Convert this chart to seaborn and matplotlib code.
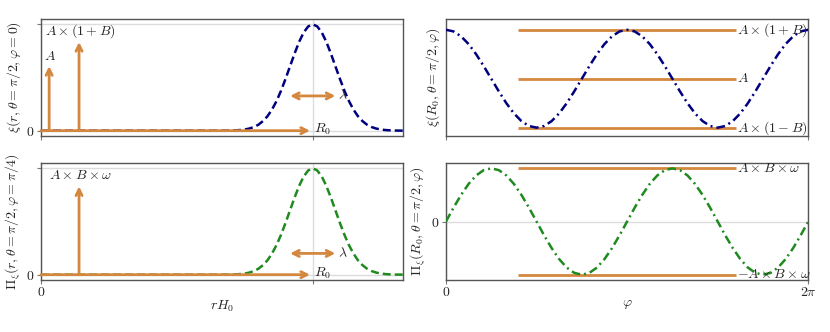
import numpy as np
import matplotlib
matplotlib.use("Agg")
import matplotlib.pyplot as plt
import seaborn as sns

# --- values ------------------------------------------------------------
R0 = 3.0            # peak position of the radial profile (r H0)
LAM = 0.5           # width marker
R_MAX = 4.0

# radial grid: flat part, then the bump around R0
r = [0.0] + [round(v, 2) for v in np.arange(2.0, 4.001, 0.05)]

# xi(r, theta=pi/2, phi=0), peak A(1+B) = 1.5
xi_r = [0.0,
        0.000, 0.001, 0.002, 0.005, 0.009, 0.017, 0.030, 0.051, 0.084, 0.134,
        0.203, 0.297, 0.417, 0.563, 0.731, 0.910, 1.089, 1.253, 1.385, 1.470,
        1.500,
        1.470, 1.385, 1.253, 1.089, 0.910, 0.731, 0.563, 0.417, 0.297, 0.203,
        0.134, 0.084, 0.051, 0.030, 0.017, 0.009, 0.005, 0.002, 0.001, 0.000]

# Pi_xi(r, theta=pi/2, phi=pi/4), peak A B omega = 1
pi_r = [0.0,
        0.000, 0.001, 0.001, 0.003, 0.006, 0.011, 0.020, 0.034, 0.056, 0.089,
        0.135, 0.198, 0.278, 0.375, 0.487, 0.607, 0.726, 0.835, 0.923, 0.980,
        1.000,
        0.980, 0.923, 0.835, 0.726, 0.607, 0.487, 0.375, 0.278, 0.198, 0.135,
        0.089, 0.056, 0.034, 0.020, 0.011, 0.006, 0.003, 0.001, 0.001, 0.000]

# angular grid 0..2pi
phi = np.linspace(0, 2 * np.pi, 49)

_half_xi = [1.483, 1.433, 1.354, 1.250, 1.129, 1.000, 0.871, 0.750, 0.646,
            0.567, 0.517, 0.500, 0.517, 0.567, 0.646, 0.750, 0.871, 1.000,
            1.129, 1.250, 1.354, 1.433, 1.483, 1.500]
xi_phi = [1.500] + _half_xi + _half_xi

_half_pi = [0.259, 0.500, 0.707, 0.866, 0.966, 1.000, 0.966, 0.866, 0.707,
            0.500, 0.259, 0.000, -0.259, -0.500, -0.707, -0.866, -0.966,
            -1.000, -0.966, -0.866, -0.707, -0.500, -0.259, 0.000]
pi_phi = [0.000] + _half_pi + _half_pi

# reference levels on the angular panels
xi_levels = [1.5, 1.0, 0.5]
xi_level_labels = [r"$A\times(1+B)$", r"$A$", r"$A\times(1-B)$"]
pi_levels = [1.0, -1.0]
pi_level_labels = [r"$A\times B\times\omega$", r"$-A\times B\times\omega$"]
level_span = (0.4 * np.pi, 1.6 * np.pi)

# --- style ---------------------------------------------------------------
sns.set_theme(style="whitegrid")
plt.rcParams["font.family"] = ["serif"]
plt.rcParams["font.serif"] = ["cmr10", "DejaVu Serif"]
plt.rcParams["mathtext.fontset"] = "cm"
plt.rcParams["axes.unicode_minus"] = False

NAVY = "#00007f"
GREEN = "#1f8a1f"
ORANGE = "#d4873f"
GRID = "#dcdcdc"
SPINE = "#555555"
FS = 10


def style_axes(ax):
    ax.grid(True, color=GRID, lw=1)
    for s in ax.spines.values():
        s.set_color(SPINE)
        s.set_linewidth(1)
    ax.tick_params(axis="both", which="both", length=3, width=0.8,
                   color="#777777", labelsize=FS, pad=2,
                   bottom=True, left=True)
    ax.tick_params(axis="x", pad=1)


def arrow(ax, start, end, style="->"):
    ax.annotate("", xy=end, xytext=start,
                arrowprops=dict(arrowstyle=style, color=ORANGE, lw=2,
                                mutation_scale=11, shrinkA=0, shrinkB=0),
                zorder=5)


def label(ax, x, y, s):
    ax.text(x, y, s, fontsize=FS, va="center", ha="left", zorder=6)


fig = plt.figure(figsize=(8.3, 3.32), dpi=100)
ax_tl = fig.add_axes([0.0494, 0.5904, 0.4365, 0.3524])
ax_bl = fig.add_axes([0.0494, 0.1566, 0.4365, 0.3524])
ax_tr = fig.add_axes([0.5373, 0.5904, 0.4365, 0.3524])
ax_br = fig.add_axes([0.5373, 0.1566, 0.4365, 0.3524])

# --- top left: radial profile of xi --------------------------------------
ax = ax_tl
sns.lineplot(x=r, y=xi_r, ax=ax, color=NAVY, lw=1.8,
             linestyle=(0, (3.2, 1.6)), zorder=3)
ax.set_xlim(0, R_MAX)
ax.set_ylim(-0.075, 1.575)
ax.set_xticks([0, R0])
ax.set_xticklabels([])
ax.set_yticks([0, max(xi_r)])
ax.set_yticklabels(["$0$", ""])
ax.set_ylabel(r"$\xi(r,\theta=\pi/2,\varphi=0)$", fontsize=FS)
ax.yaxis.set_label_coords(-0.05, 0.5)
style_axes(ax)
arrow(ax, (0, 0), (R0 - 0.03, 0))
arrow(ax, (0.09, 0), (0.09, 0.91))
arrow(ax, (0.42, 0), (0.42, 1.25))
arrow(ax, (R0 - LAM / 2, 0.49), (R0 + LAM / 2, 0.49), style="<->")
label(ax, 0.03, 1.04, r"$A$")
label(ax, 0.04, 1.40, r"$A\times(1+B)$")
label(ax, R0 + 0.01, 0.02, r"$R_0$")
label(ax, R0 + LAM / 2 + 0.03, 0.49, r"$\lambda$")

# --- bottom left: radial profile of Pi_xi --------------------------------
ax = ax_bl
sns.lineplot(x=r, y=pi_r, ax=ax, color=GREEN, lw=1.8,
             linestyle=(0, (3.2, 1.6)), zorder=3)
ax.set_xlim(0, R_MAX)
ax.set_ylim(-0.05, 1.05)
ax.set_xticks([0, R0])
ax.set_xticklabels(["$0$", ""])
ax.set_yticks([0, max(pi_r)])
ax.set_yticklabels(["$0$", ""])
ax.set_xlabel(r"$rH_0$", fontsize=FS)
ax.xaxis.set_label_coords(0.5, -0.155)
ax.set_ylabel(r"$\Pi_\xi(r,\theta=\pi/2,\varphi=\pi/4)$", fontsize=FS)
ax.yaxis.set_label_coords(-0.05, 0.5)
style_axes(ax)
arrow(ax, (0, 0), (R0 - 0.03, 0))
arrow(ax, (0.42, 0), (0.42, 0.83))
arrow(ax, (R0 - LAM / 2, 0.20), (R0 + LAM / 2, 0.20), style="<->")
label(ax, 0.09, 0.93, r"$A\times B\times\omega$")
label(ax, R0 + 0.01, 0.01, r"$R_0$")
label(ax, R0 + LAM / 2 + 0.03, 0.20, r"$\lambda$")

# --- top right: angular dependence of xi ---------------------------------
ax = ax_tr
sns.lineplot(x=phi, y=xi_phi, ax=ax, color=NAVY, lw=1.8,
             linestyle=(0, (3.5, 1.6, 0.8, 1.6)), zorder=3)
for lev, lab in zip(xi_levels, xi_level_labels):
    ax.hlines(lev, *level_span, color=ORANGE, lw=2, zorder=2)
    label(ax, level_span[1] + 0.02, lev, lab)
ax.set_xlim(0, 2 * np.pi)
ax.set_ylim(0.415, 1.61)
ax.set_xticks([0, 2 * np.pi])
ax.set_xticklabels([])
ax.set_yticks([])
ax.set_ylabel(r"$\xi(R_0,\theta=\pi/2,\varphi)$", fontsize=FS)
ax.yaxis.set_label_coords(-0.01, 0.5)
style_axes(ax)
ax.grid(False)

# --- bottom right: angular dependence of Pi_xi ---------------------------
ax = ax_br
sns.lineplot(x=phi, y=pi_phi, ax=ax, color=GREEN, lw=1.8,
             linestyle=(0, (3.5, 1.6, 0.8, 1.6)), zorder=3)
for lev, lab in zip(pi_levels, pi_level_labels):
    ax.hlines(lev, *level_span, color=ORANGE, lw=2, zorder=2)
    label(ax, level_span[1] + 0.02, lev, lab)
ax.set_xlim(0, 2 * np.pi)
ax.set_ylim(-1.1, 1.1)
ax.set_xticks([0, 2 * np.pi])
ax.set_xticklabels(["$0$", r"$2\pi$"])
ax.set_yticks([0])
ax.set_yticklabels(["$0$"])
ax.set_xlabel(r"$\varphi$", fontsize=FS)
ax.xaxis.set_label_coords(0.5, -0.155)
ax.set_ylabel(r"$\Pi_\xi(R_0,\theta=\pi/2,\varphi)$", fontsize=FS)
ax.yaxis.set_label_coords(-0.05, 0.5)
style_axes(ax)

fig.savefig("out.png", dpi=100)
